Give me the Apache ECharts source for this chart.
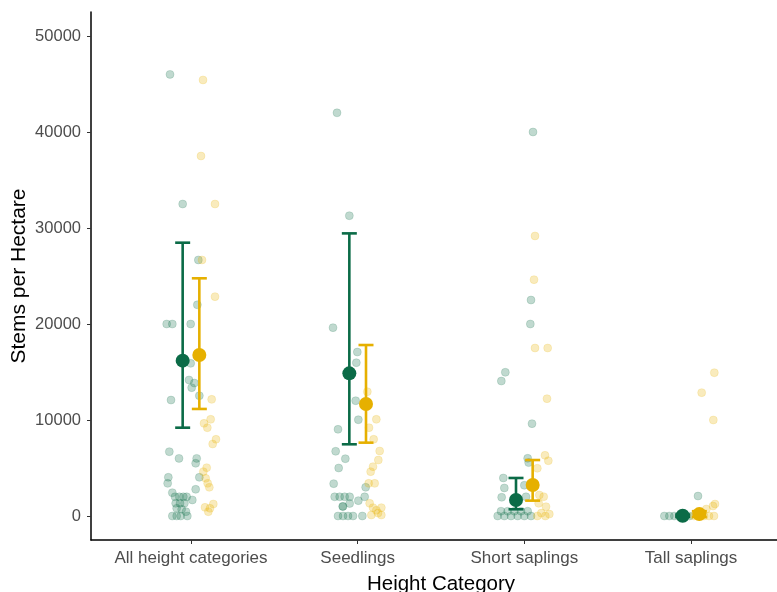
<!DOCTYPE html>
<html>
<head>
<meta charset="utf-8">
<script src="https://cdn.jsdelivr.net/npm/echarts@6/dist/echarts.min.js"></script>
<style>html,body{margin:0;padding:0;background:#fff}#c{width:777px;height:592px}</style>
</head>
<body>
<div id="c"></div>
<script>
// Categories (x positions 1..4)
var categories = ['All height categories', 'Seedlings', 'Short saplings', 'Tall saplings'];
var yTicks = [0, 10000, 20000, 30000, 40000, 50000];

// Raw plot observations: [category index, horizontal jitter, stems per hectare]
var greenPoints = [
  [1,-0.126,46000],[1,-0.05,32500],[1,0.044,26670],[1,0.038,22000],[1,-0.146,20000],[1,-0.112,20000],[1,-0.002,20000],
  [1,-0.002,15900],[1,-0.012,14170],[1,0.02,13850],[1,0.004,13370],[1,0.05,12530],[1,-0.12,12080],[1,-0.13,6700],
  [1,-0.072,6000],[1,0.034,6000],[1,0.028,5490],[1,0.05,4030],[1,-0.136,4030],[1,-0.14,3400],[1,0.028,2780],
  [1,-0.112,2430],[1,0.008,1670],[1,-0.096,2000],[1,-0.07,2000],[1,-0.046,2000],[1,-0.026,2000],[1,-0.092,1320],
  [1,-0.066,1320],[1,-0.04,1320],[1,-0.086,800],[1,-0.056,700],[1,-0.03,450],[1,-0.112,0],[1,-0.086,0],[1,-0.062,0],[1,-0.022,0],
  [2,-0.124,42000],[2,-0.05,31280],[2,-0.148,19620],[2,-0.002,17080],[2,-0.008,15970],[2,-0.012,12010],[2,0.004,10030],
  [2,-0.118,9030],[2,-0.132,6740],[2,-0.074,5970],[2,-0.114,5000],[2,-0.144,3370],[2,0.048,2990],[2,-0.138,2000],
  [2,-0.108,2000],[2,-0.078,2000],[2,-0.048,2000],[2,0.042,2000],[2,0.004,1600],[2,-0.088,1000],[2,-0.048,1300],
  [2,-0.09,1000],[2,-0.118,0],[2,-0.088,0],[2,-0.058,0],[2,-0.028,0],[2,0.028,0],
  [3,0.052,40000],[3,0.04,22500],[3,0.036,20000],[3,-0.114,14970],[3,-0.138,14060],[3,0.046,9620],[3,0.02,6010],
  [3,0.026,5560],[3,-0.126,3960],[3,-0.12,2920],[3,-0.136,1950],[3,0.0,3200],[3,0.01,2000],[3,-0.16,0],[3,-0.12,0],
  [3,-0.08,0],[3,-0.04,0],[3,0.0,0],[3,0.04,0],[3,-0.14,500],[3,-0.1,500],[3,-0.06,500],[3,-0.02,500],[3,0.02,500],
  [4,0.042,2080],[4,-0.16,0],[4,-0.13,0],[4,-0.1,0],[4,-0.07,0],[4,-0.04,0],[4,-0.01,0]
];
var yellowPoints = [
  [1,0.072,45420],[1,0.06,37500],[1,0.144,32500],[1,0.066,26670],[1,0.144,22850],[1,0.124,12150],[1,0.118,10070],
  [1,0.078,9650],[1,0.098,9200],[1,0.15,7990],[1,0.13,7500],[1,0.094,5030],[1,0.074,4620],[1,0.088,3920],
  [1,0.1,3400],[1,0.11,2990],[1,0.134,1250],[1,0.114,800],[1,0.084,900],[1,0.104,450],
  [2,0.058,12950],[2,0.112,10070],[2,0.068,9200],[2,0.096,7990],[2,0.132,6770],[2,0.124,5830],[2,0.092,5140],
  [2,0.078,4620],[2,0.066,3400],[2,0.102,3400],[2,0.072,1320],[2,0.092,870],[2,0.112,600],[2,0.142,870],
  [2,0.122,300],[2,0.082,100],[2,0.142,100],
  [3,0.064,29170],[3,0.058,24620],[3,0.064,17500],[3,0.14,17500],[3,0.136,12220],[3,0.124,6320],[3,0.144,5760],
  [3,0.078,4970],[3,0.09,2190],[3,0.116,2010],[3,0.086,1320],[3,0.13,970],[3,0.078,0],[3,0.102,300],[3,0.126,0],[3,0.15,200],
  [4,0.14,14930],[4,0.064,12850],[4,0.134,10000],[4,0.144,1250],[4,0.132,1040],[4,0.092,730],[4,0.018,0],
  [4,0.048,0],[4,0.078,0],[4,0.108,0],[4,0.138,0]
];

// Group summaries per category: mean, lower, upper
var greenMean  = [16180, 14860, 1670, 30];
var greenLow   = [9200, 7470, 700, -100];
var greenHigh  = [28470, 29440, 3960, 150];
var yellowMean = [16770, 11670, 3230, 200];
var yellowLow  = [11150, 7640, 1600, -100];
var yellowHigh = [24760, 17810, 5830, 500];

var GREEN = '#0b6b47', YELLOW = '#e6b000';
var dodge = 0.05;
var FONT = 'Liberation Sans, Arial, sans-serif';

function pts(arr){ return arr.map(function(p){ return [p[0] + p[1], p[2]]; }); }
function means(m, off){ return m.map(function(v,i){ return [i + 1 + off, v]; }); }
function bars(lo, hi, off){ return lo.map(function(v,i){ return [i + 1 + off, v, hi[i]]; }); }

function errRender(color){
  return function(params, api){
    var x = api.value(0);
    var a = api.coord([x, api.value(1)]);
    var b = api.coord([x, api.value(2)]);
    var hw = 7.5;
    var st = {stroke: color, lineWidth: 2.6};
    return {type:'group', children:[
      {type:'line', shape:{x1:a[0], y1:a[1], x2:b[0], y2:b[1]}, style:st},
      {type:'line', shape:{x1:a[0]-hw, y1:a[1], x2:a[0]+hw, y2:a[1]}, style:st},
      {type:'line', shape:{x1:b[0]-hw, y1:b[1], x2:b[0]+hw, y2:b[1]}, style:st}
    ]};
  };
}

var chart = echarts.init(document.getElementById('c'), null, {renderer:'canvas'});
chart.setOption({
  animation:false,
  backgroundColor:'#fff',
  grid:{left:91, top:12, right:-14, bottom:52, containLabel:false, outerBoundsMode:'none'},
  xAxis:{
    type:'value', min:0.4, max:4.6,
    axisLine:{show:true, onZero:false, lineStyle:{color:'#000', width:1.5}},
    axisTick:{show:true, length:4, lineStyle:{color:'#333', width:1}, customValues:[1,2,3,4]},
    axisLabel:{customValues:[1,2,3,4], formatter:function(v){ return categories[Math.round(v)-1] || ''; },
      color:'#4d4d4d', fontSize:17, fontFamily:FONT, margin:10},
    splitLine:{show:false},
    name:'Height Category', nameLocation:'middle', nameGap:34, nameMoveOverlap:false,
    nameTextStyle:{color:'#000', fontSize:20.5, fontFamily:FONT}
  },
  yAxis:{
    type:'value', min:-2500, max:52500,
    axisLine:{show:true, onZero:false, lineStyle:{color:'#000', width:1.5}},
    axisTick:{show:true, length:4, lineStyle:{color:'#333', width:1}, customValues:yTicks},
    axisLabel:{customValues:yTicks, formatter:function(v){ return String(v); },
      color:'#4d4d4d', fontSize:16.5, fontFamily:FONT, margin:10},
    splitLine:{show:false},
    name:'Stems per Hectare', nameLocation:'middle', nameGap:61, nameRotate:90, nameMoveOverlap:false,
    nameTextStyle:{color:'#000', fontSize:21, fontFamily:FONT}
  },
  series:[
    {type:'scatter', data:pts(greenPoints), symbolSize:8, z:2,
      itemStyle:{color:'rgba(11,107,71,0.32)', borderColor:'rgba(11,107,71,0.25)', borderWidth:0.8}},
    {type:'scatter', data:pts(yellowPoints), symbolSize:8, z:2,
      itemStyle:{color:'rgba(230,176,0,0.32)', borderColor:'rgba(230,176,0,0.25)', borderWidth:0.8}},
    {type:'custom', data:bars(greenLow, greenHigh, -dodge), renderItem:errRender(GREEN), z:3,
      encode:{x:0, y:[1,2]}},
    {type:'scatter', data:means(greenMean, -dodge), symbolSize:14, z:4, itemStyle:{color:GREEN, opacity:1}},
    {type:'custom', data:bars(yellowLow, yellowHigh, dodge), renderItem:errRender(YELLOW), z:5,
      encode:{x:0, y:[1,2]}},
    {type:'scatter', data:means(yellowMean, dodge), symbolSize:14, z:6, itemStyle:{color:YELLOW, opacity:1}}
  ]
});
</script>
</body>
</html>
